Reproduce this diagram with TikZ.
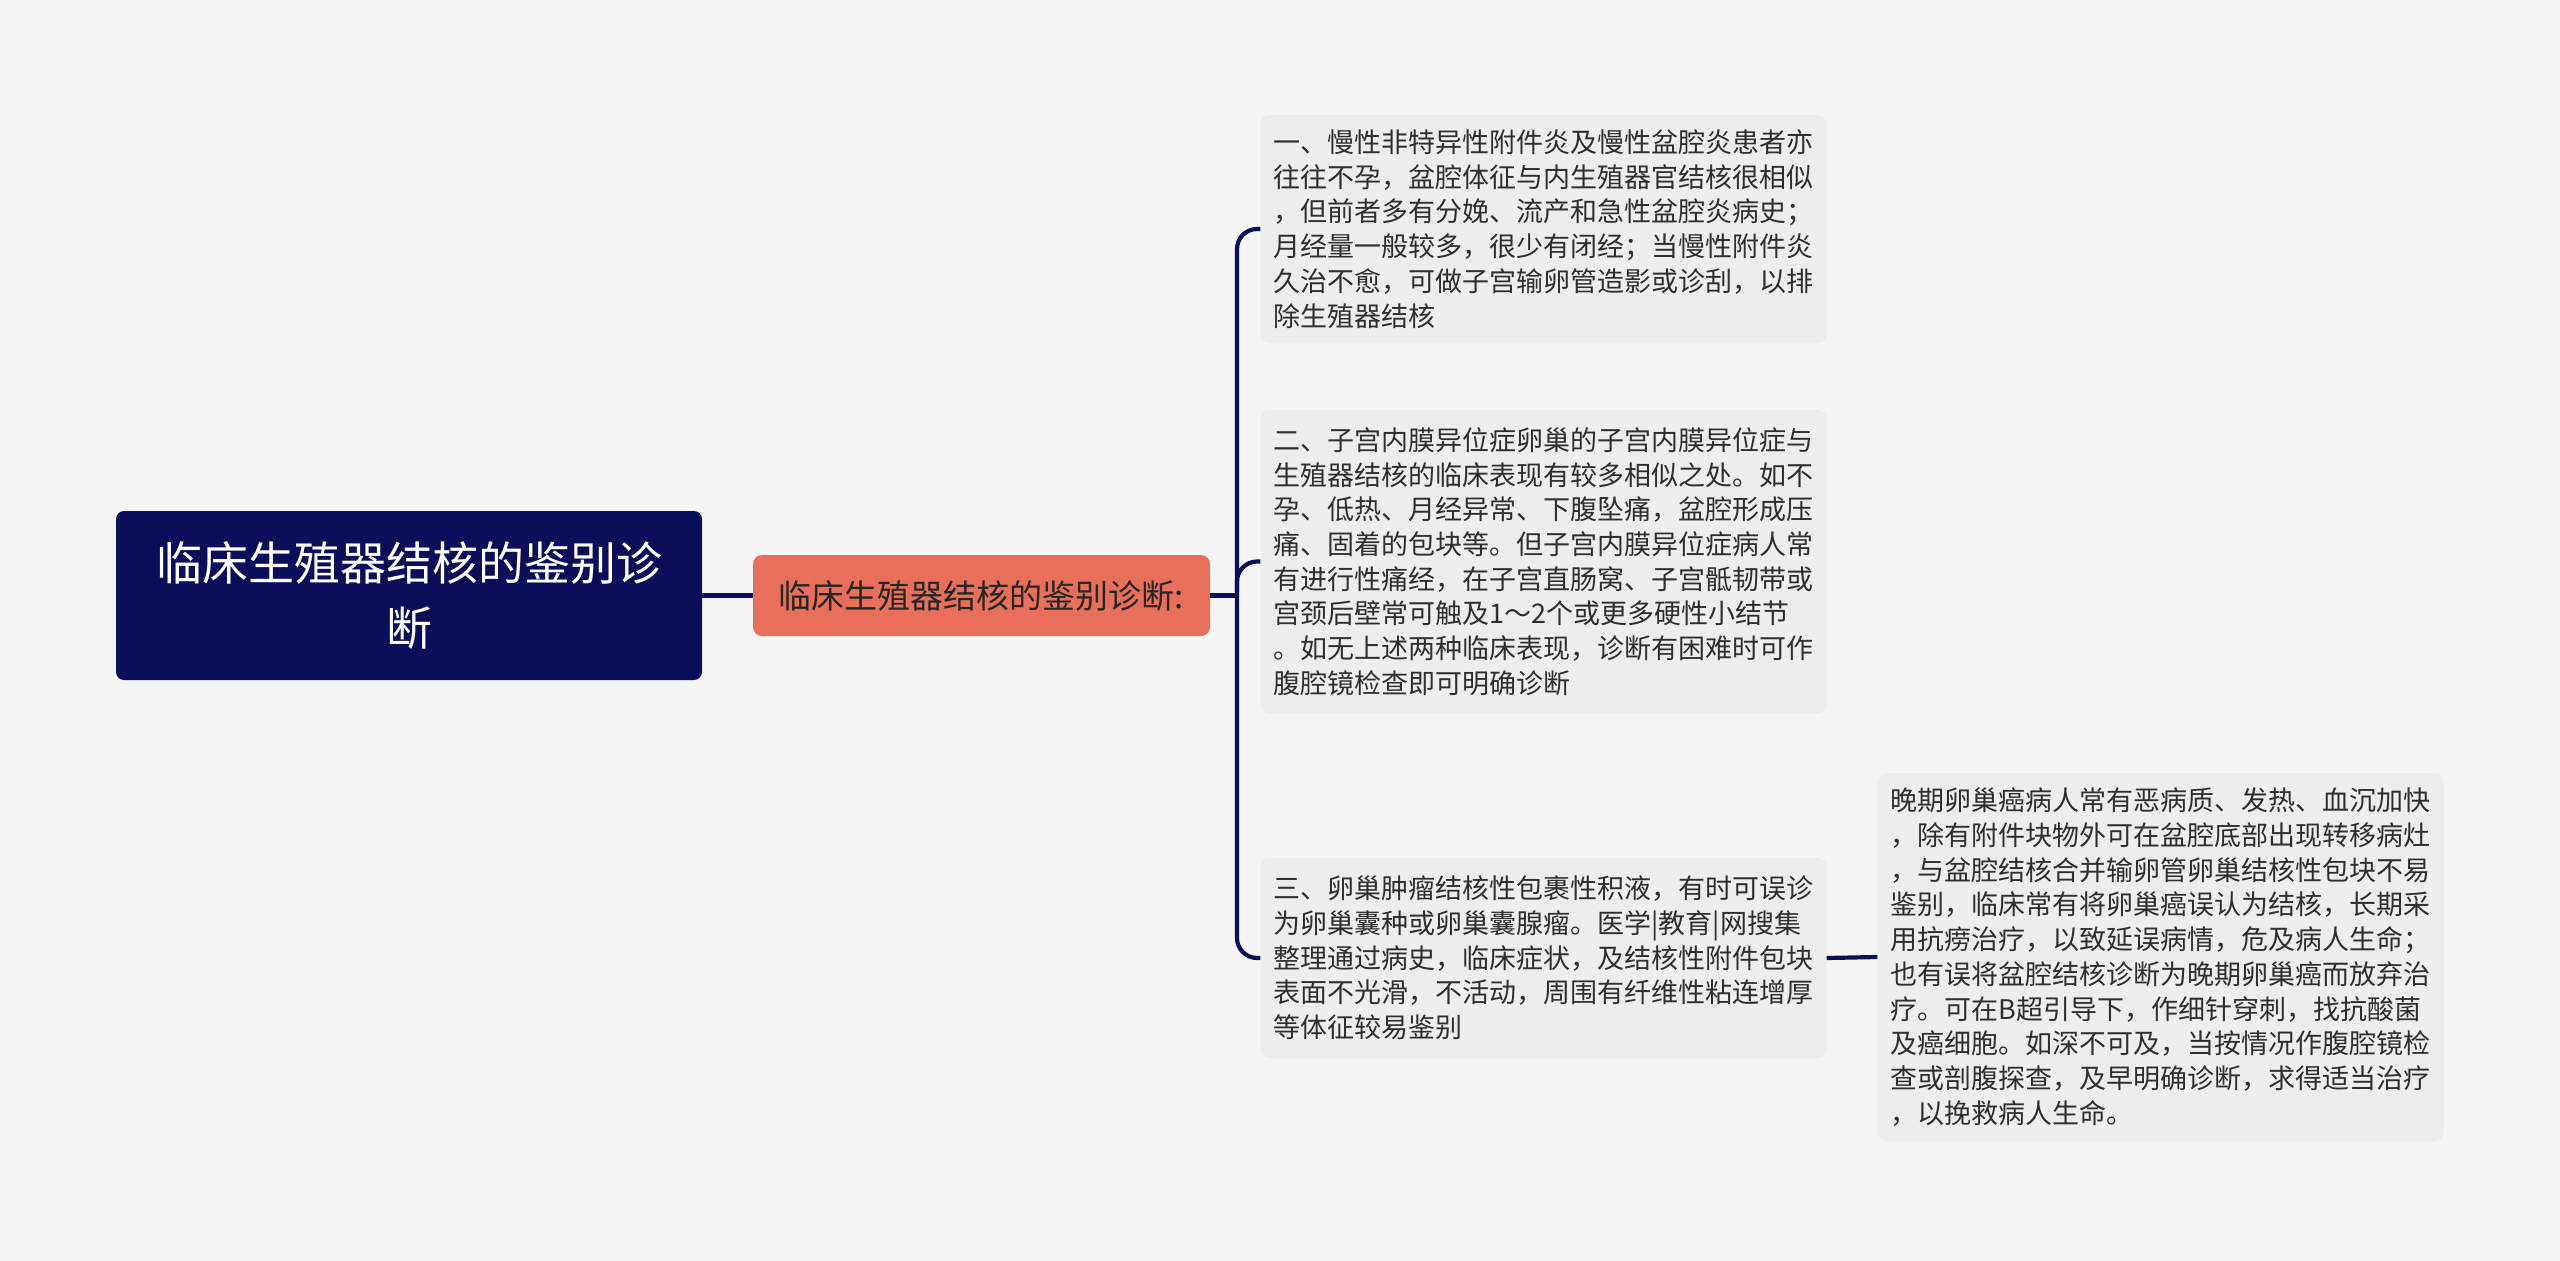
\documentclass[tikz,border=0pt]{standalone}
\usepackage{fontspec}
\setmainfont{Noto Sans CJK SC}
\usetikzlibrary{calc}
\definecolor{bg}{HTML}{F5F5F5}
\definecolor{navy}{HTML}{0B0F5A}
\definecolor{coral}{HTML}{E8705A}
\definecolor{leaffill}{HTML}{EDEDED}
\definecolor{txt}{HTML}{2E2E2E}
\tikzset{
  conn/.style={draw=navy, line width=4.2pt},
  rootbox/.style={fill=navy, rounded corners=8pt, text=white, align=center,
    minimum width=586pt, minimum height=169pt, inner sep=0pt,
    font=\fontsize{46}{65}\selectfont},
  midbox/.style={fill=coral, rounded corners=9pt, text={black!85}, align=center,
    minimum width=457pt, minimum height=81pt, inner sep=0pt,
    font=\fontsize{33}{40}\selectfont},
  leafbox/.style={fill=leaffill, rounded corners=9pt, text=txt, align=left,
    minimum width=566pt, inner xsep=13pt, inner ysep=0pt,
    font=\fontsize{27}{34.7}\selectfont},
}
\begin{document}
\begin{tikzpicture}[x=1pt,y=-1pt]
\useasboundingbox[fill=bg] (0,0) rectangle (2560,1261);
\node[rootbox] (root) at (409,595.5) {临床生殖器结核的鉴别诊\\断};
\node[midbox] (mid) at (981.5,595.5) {临床生殖器结核的鉴别诊断:};
\coordinate (sp) at (1237,595.5);
\node[leafbox, minimum height=228pt] (b1) at (1543.5,229) {一、慢性非特异性附件炎及慢性盆腔炎患者亦\\往往不孕，盆腔体征与内生殖器官结核很相似\\，但前者多有分娩、流产和急性盆腔炎病史；\\月经量一般较多，很少有闭经；当慢性附件炎\\久治不愈，可做子宫输卵管造影或诊刮，以排\\除生殖器结核};
\node[leafbox, minimum height=303pt] (b2) at (1543.5,561.5) {二、子宫内膜异位症卵巢的子宫内膜异位症与\\生殖器结核的临床表现有较多相似之处。如不\\孕、低热、月经异常、下腹坠痛，盆腔形成压\\痛、固着的包块等。但子宫内膜异位症病人常\\有进行性痛经，在子宫直肠窝、子宫骶韧带或\\宫颈后壁常可触及1～2个或更多硬性小结节\\。如无上述两种临床表现，诊断有困难时可作\\腹腔镜检查即可明确诊断};
\node[leafbox, minimum height=200pt] (b3) at (1543.5,958) {三、卵巢肿瘤结核性包裹性积液，有时可误诊\\为卵巢囊种或卵巢囊腺瘤。医学|教育|网搜集\\整理通过病史，临床症状，及结核性附件包块\\表面不光滑，不活动，周围有纤维性粘连增厚\\等体征较易鉴别};
\node[leafbox, minimum height=368pt] (b4) at (2160.5,957) {晚期卵巢癌病人常有恶病质、发热、血沉加快\\，除有附件块物外可在盆腔底部出现转移病灶\\，与盆腔结核合并输卵管卵巢结核性包块不易\\鉴别，临床常有将卵巢癌误认为结核，长期采\\用抗痨治疗，以致延误病情，危及病人生命；\\也有误将盆腔结核诊断为晚期卵巢癌而放弃治\\疗。可在B超引导下，作细针穿刺，找抗酸菌\\及癌细胞。如深不可及，当按情况作腹腔镜检\\查或剖腹探查，及早明确诊断，求得适当治疗\\，以挽救病人生命。};
\draw[conn] (root.east) -- (mid.west);
\draw[conn] (mid.east) -- (sp);
\draw[conn, rounded corners=20pt] (b1.west) -- (b1.west -| sp) -- (b3.west -| sp) -- (b3.west);
\draw[conn, rounded corners=20pt] ($(b2.west -| sp)+(0,30)$) -- (b2.west -| sp) -- (b2.west);
\draw[conn] (b3.east) -- (b4.west);
\end{tikzpicture}
\end{document}
